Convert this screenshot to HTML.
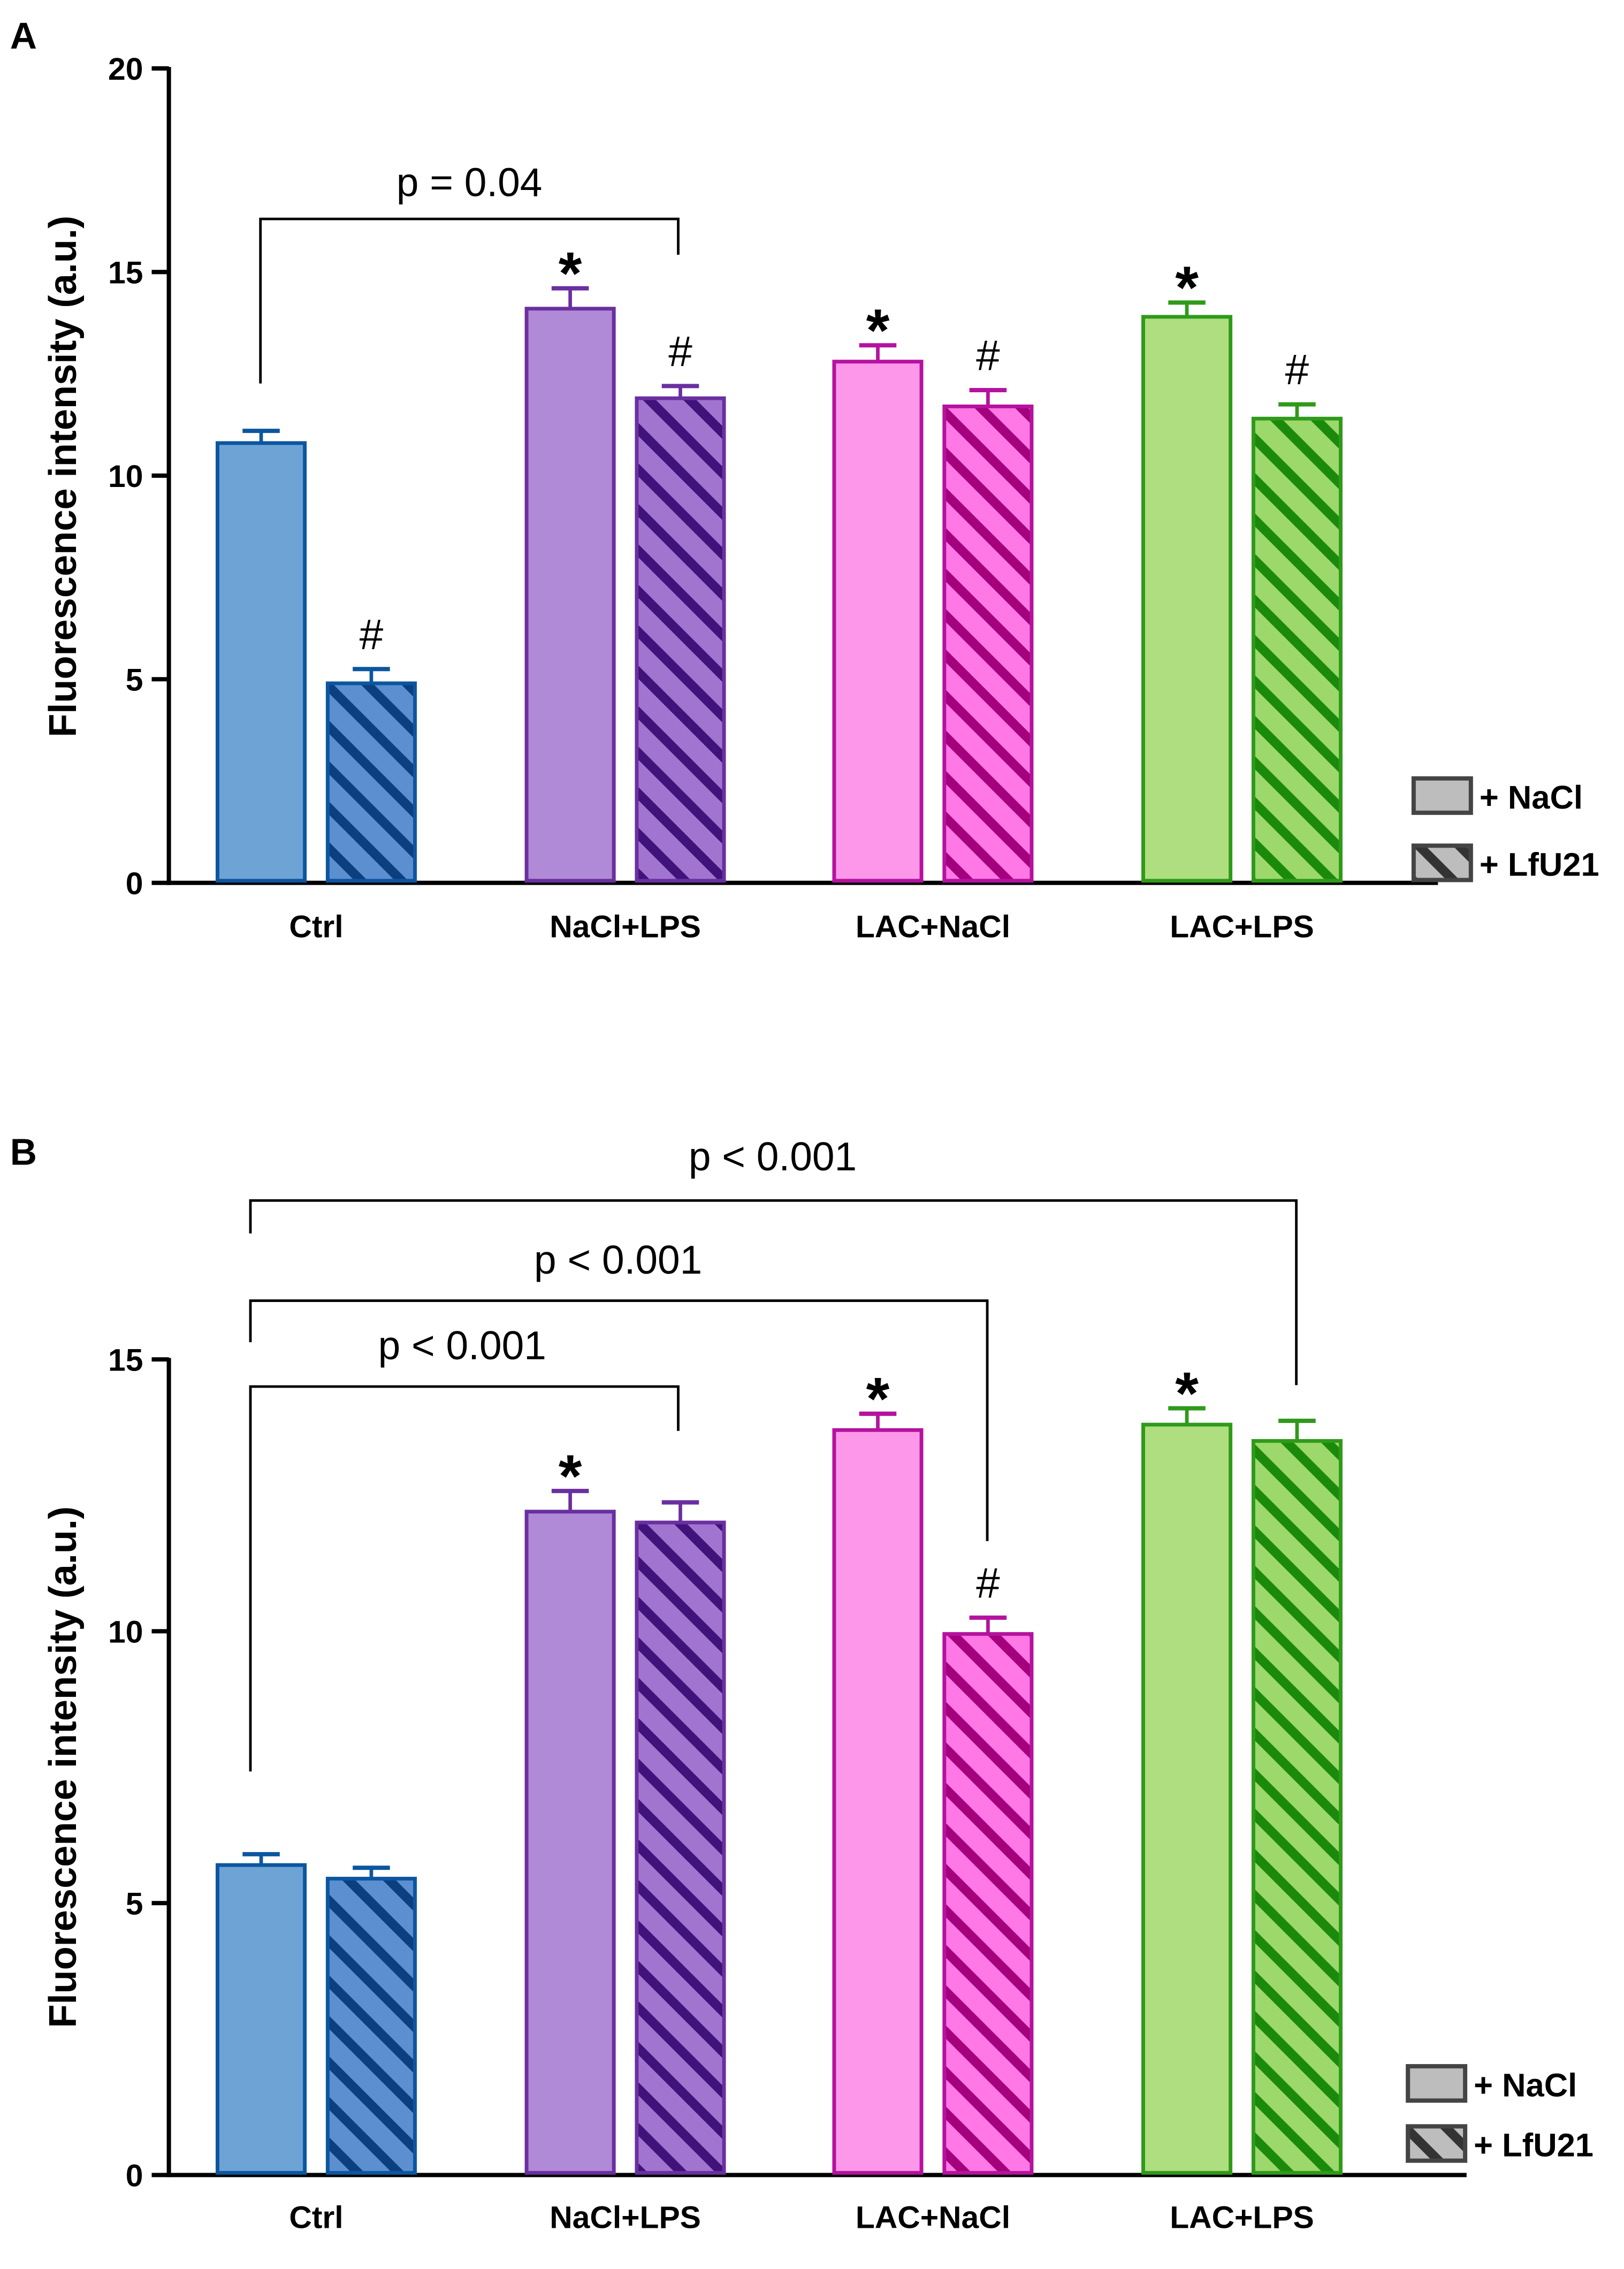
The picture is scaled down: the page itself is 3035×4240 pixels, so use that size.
<!DOCTYPE html>
<html><head><meta charset="utf-8"><style>
html,body{margin:0;padding:0;background:#fff}
svg{display:block}
text{font-family:"Liberation Sans",Arial,sans-serif}
</style></head><body>
<svg id="chart" width="3035" height="4240" viewBox="0 0 1135 1585.7" xmlns="http://www.w3.org/2000/svg">
<defs id="defs"></defs>
<g id="root"></g>
</svg>
<script>
const categories = ["Ctrl","NaCl+LPS","LAC+NaCl","LAC+LPS"];
const seriesNames = ["+ NaCl","+ LfU21"];
const aNaCl = [10.8,14.1,12.8,13.9];
const aNaClErr = [0.3,0.5,0.4,0.35];
const aLfU = [4.9,11.9,11.7,11.4];
const aLfUErr = [0.35,0.3,0.4,0.35];
const bNaCl = [5.7,12.2,13.7,13.8];
const bNaClErr = [0.2,0.38,0.3,0.3];
const bLfU = [5.45,12.0,9.95,13.5];
const bLfUErr = [0.2,0.37,0.3,0.37];
const aTicks = [0,5,10,15,20];
const bTicks = [0,5,10,15];
const aMarksNaCl = ["","*","*","*"];
const aMarksLfU = ["#","#","#","#"];
const bMarksNaCl = ["","*","*","*"];
const bMarksLfU = ["","","#",""];

const NS="http://www.w3.org/2000/svg";
const root=document.getElementById('root');
const defs=document.getElementById('defs');
function el(tag,attrs,parent,txt){const e=document.createElementNS(NS,tag);for(const k in attrs)e.setAttribute(k,attrs[k]);if(txt!==undefined)e.textContent=txt;(parent||root).appendChild(e);return e;}

const colors=[
 {fill:"#6ea3d6",stroke:"#0c569f",hfill:"#5b8fd0",hatch:"#0b3f7f"},
 {fill:"#b08ad6",stroke:"#6a2fa0",hfill:"#a175cf",hatch:"#3f137a"},
 {fill:"#fd97ea",stroke:"#b5129f",hfill:"#ff78e6",hatch:"#a4007e"},
 {fill:"#aede80",stroke:"#2f9a1a",hfill:"#9cd86b",hatch:"#1b8a0b"},
 {fill:"#bdbdbd",stroke:"#444444",hfill:"#bdbdbd",hatch:"#333333"}
];
colors.forEach((c,i)=>{
 const p=el('pattern',{id:'h'+i,patternUnits:'userSpaceOnUse',width:20,height:20,patternTransform:'rotate(-45)'},defs);
 el('rect',{x:0,y:0,width:20,height:20,fill:c.hfill},p);
 el('rect',{x:0,y:0,width:6.5,height:20,fill:c.hatch},p);
});

const xNaCl=[152,368,583,799], bw=61, gap=16;

function panel(cfg){
 const g=el('g',{});
 
 
 const y=v=>cfg.y0-(v/cfg.step)*cfg.px;
 const ax=el('line',{x1:118,y1:y(cfg.ticks[cfg.ticks.length-1])-1,x2:118,y2:cfg.y0+1.5,stroke:'#000','stroke-width':3},g);
 
 const xa=el('line',{x1:116.5,y1:cfg.y0,x2:cfg.xEnd,y2:cfg.y0,stroke:'#000','stroke-width':3},g);
 
 cfg.ticks.forEach(t=>{
  el('line',{x1:106,y1:y(t),x2:118,y2:y(t),stroke:'#000','stroke-width':3},g);
  const tl=el('text',{x:100,y:y(t)+8,'text-anchor':'end','font-size':cfg.tickFs,'font-weight':'bold'},g,String(t));
  
 });
 const yt=el('text',{x:0,y:0,transform:`translate(${cfg.titleX},${cfg.titleY}) rotate(-90)`,'text-anchor':'middle','font-size':27,'font-weight':'bold'},g,'Fluorescence intensity (a.u.)');
 
 const pl=el('text',{x:7,y:cfg.labelY,'font-size':26,'font-weight':'bold'},g,cfg.letter);
 
 categories.forEach((c,i)=>{
  const cl=el('text',{x:xNaCl[i]+bw+gap/2,y:cfg.catY,'text-anchor':'middle','font-size':cfg.catFs,'font-weight':'bold'},g,c);
  
  [[cfg.nacl,cfg.naclErr,cfg.mN,0],[cfg.lfu,cfg.lfuErr,cfg.mL,1]].forEach(([vals,errs,marks,s])=>{
   const x=xNaCl[i]+s*(bw+gap), v=vals[i], col=colors[i];
   const top=y(v+errs[i]), cx=x+bw/2;
   const e1=el('line',{x1:cx,y1:y(v),x2:cx,y2:top,stroke:col.stroke,'stroke-width':2.5},g);
   
   el('line',{x1:cx-13,y1:top,x2:cx+13,y2:top,stroke:col.stroke,'stroke-width':3},g);
   const r=el('rect',{x:x,y:y(v),width:bw,height:cfg.y0-1.5-y(v),fill:s?`url(#h${i})`:col.fill,stroke:col.stroke,'stroke-width':2.6},g);
   
   const m=marks[i];
   if(m){
    const mt=el('text',{x:cx,y:top-(m==='*'?-4:14),'text-anchor':'middle','font-size':m==='*'?42:30,'font-weight':m==='*'?'bold':'normal'},g,m);
    
   }
  });
 });
 cfg.brackets.forEach(b=>{
  const p=el('path',{d:`M${b.x1},${b.yl} V${b.yt} H${b.x2} V${b.yr}`,fill:'none',stroke:'#000','stroke-width':1.8},g);
  
  const t=el('text',{x:b.tx,y:b.ty,'text-anchor':'middle','font-size':28},g,b.label);
  
 });
 seriesNames.forEach((n,k)=>{
  const by=cfg.legY+k*cfg.legGap;
  const lr=el('rect',{x:cfg.legX,y:by,width:40,height:24,fill:k?'url(#h4)':colors[4].fill,stroke:colors[4].stroke,'stroke-width':3},g);
  
  const lt=el('text',{x:cfg.legX+46,y:by+21,'font-size':23,'font-weight':'bold'},g,n);
  
 });
}

panel({name:'panel-a',letter:'A',labelY:34,y0:617,step:5,px:142.3,ticks:aTicks,xEnd:1005,tickFs:22,catFs:22,catY:655,titleX:53,titleY:333,
 nacl:aNaCl,naclErr:aNaClErr,lfu:aLfU,lfuErr:aLfUErr,mN:aMarksNaCl,mL:aMarksLfU,
 brackets:[{x1:182,yl:268,yt:153,x2:474,yr:178,tx:328,ty:137,label:'p = 0.04'}],
 legX:988,legY:544,legGap:47});
panel({name:'panel-b',letter:'B',labelY:814,y0:1520,step:5,px:190,ticks:bTicks,xEnd:1025,tickFs:22,catFs:22,catY:1557,titleX:53,titleY:1235,
 nacl:bNaCl,naclErr:bNaClErr,lfu:bLfU,lfuErr:bLfUErr,mN:bMarksNaCl,mL:bMarksLfU,
 brackets:[{x1:175,yl:1238,yt:969,x2:474,yr:1000,tx:323,ty:950,label:'p < 0.001'},
  {x1:175,yl:938,yt:909,x2:690,yr:1077,tx:432,ty:890,label:'p < 0.001'},
  {x1:175,yl:862,yt:839,x2:906,yr:968,tx:540,ty:818,label:'p < 0.001'}],
 legX:984,legY:1444,legGap:42});
</script>
</body></html>
